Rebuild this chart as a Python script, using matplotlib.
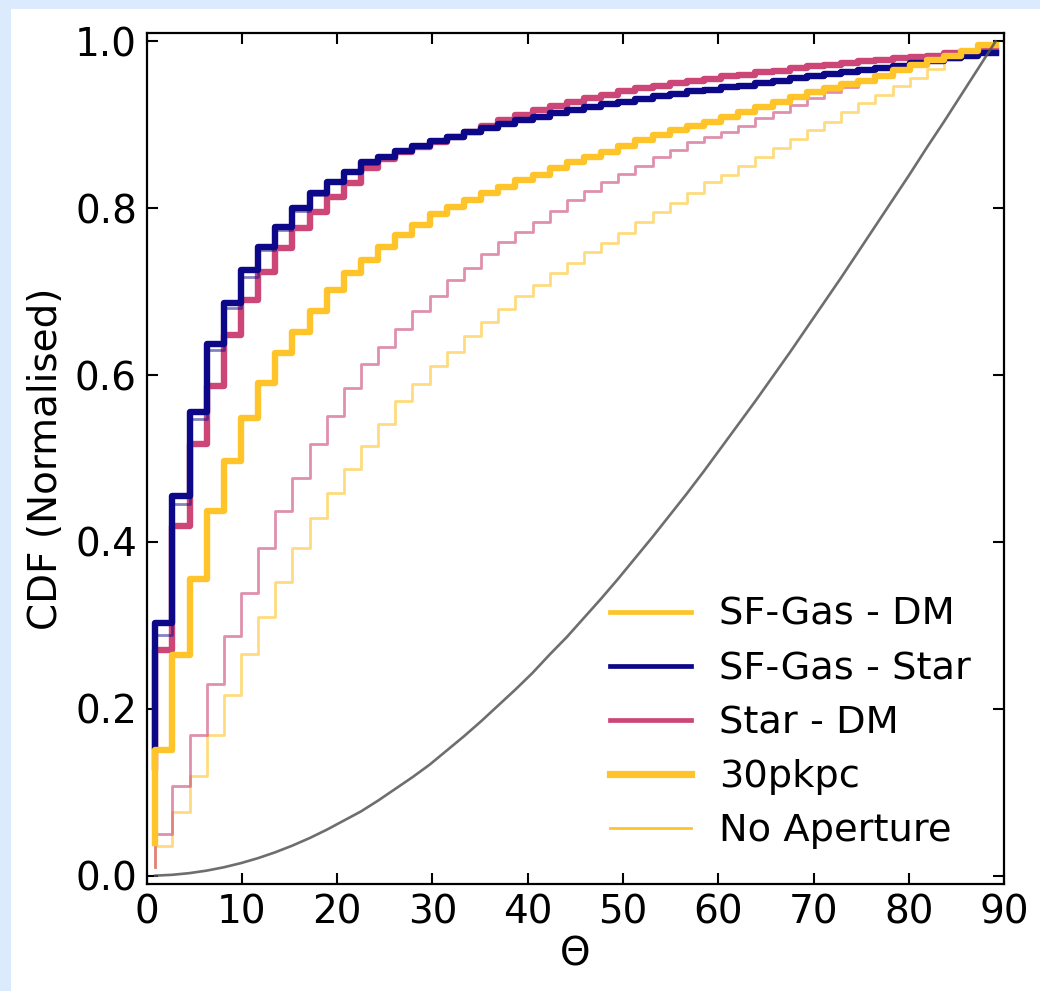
import matplotlib
matplotlib.use("Agg")
import matplotlib.pyplot as plt
import numpy as np

# Misalignment angle bins: 50 bins of 1.8 deg between 0 and 90
bin_edges = np.linspace(0, 90, 51)
theta = 0.5 * (bin_edges[:-1] + bin_edges[1:])

# Cumulative fractions per bin (normalised)
gas_dm_30 = [0.039, 0.151, 0.264, 0.355, 0.437, 0.497, 0.549, 0.591, 0.627, 0.652,
             0.677, 0.702, 0.722, 0.738, 0.754, 0.768, 0.780, 0.793, 0.802, 0.810,
             0.818, 0.826, 0.834, 0.840, 0.848, 0.856, 0.862, 0.868, 0.875, 0.882,
             0.888, 0.894, 0.899, 0.904, 0.909, 0.915, 0.921, 0.927, 0.933, 0.939,
             0.944, 0.949, 0.953, 0.959, 0.966, 0.972, 0.978, 0.983, 0.989, 0.996]
gas_dm_all = [0.010, 0.036, 0.076, 0.120, 0.168, 0.217, 0.266, 0.310, 0.352, 0.393,
              0.429, 0.459, 0.487, 0.515, 0.541, 0.569, 0.589, 0.611, 0.628, 0.647,
              0.664, 0.679, 0.695, 0.708, 0.722, 0.735, 0.747, 0.758, 0.770, 0.783,
              0.795, 0.806, 0.818, 0.831, 0.840, 0.851, 0.862, 0.872, 0.883, 0.894,
              0.904, 0.915, 0.926, 0.936, 0.946, 0.956, 0.967, 0.978, 0.987, 0.998]
gas_star_30 = [0.155, 0.303, 0.455, 0.556, 0.637, 0.687, 0.726, 0.754, 0.778, 0.800,
               0.818, 0.832, 0.844, 0.855, 0.862, 0.869, 0.875, 0.881, 0.886, 0.892,
               0.896, 0.901, 0.906, 0.910, 0.914, 0.918, 0.921, 0.925, 0.928, 0.931,
               0.934, 0.937, 0.940, 0.942, 0.945, 0.947, 0.950, 0.953, 0.956, 0.958,
               0.961, 0.963, 0.966, 0.968, 0.971, 0.974, 0.977, 0.980, 0.983, 0.986]
gas_star_all = [0.150, 0.289, 0.445, 0.547, 0.630, 0.680, 0.718, 0.750, 0.774, 0.797,
                0.816, 0.830, 0.843, 0.853, 0.861, 0.868, 0.874, 0.880, 0.885, 0.891,
                0.895, 0.900, 0.905, 0.909, 0.913, 0.917, 0.920, 0.924, 0.927, 0.930,
                0.933, 0.936, 0.939, 0.941, 0.944, 0.946, 0.949, 0.952, 0.955, 0.957,
                0.960, 0.962, 0.965, 0.967, 0.970, 0.973, 0.976, 0.979, 0.982, 0.985]
star_dm_30 = [0.130, 0.270, 0.419, 0.517, 0.587, 0.648, 0.690, 0.724, 0.752, 0.776,
              0.795, 0.814, 0.830, 0.848, 0.859, 0.867, 0.874, 0.880, 0.886, 0.892,
              0.899, 0.906, 0.912, 0.918, 0.923, 0.928, 0.932, 0.936, 0.940, 0.944,
              0.947, 0.950, 0.952, 0.955, 0.958, 0.960, 0.963, 0.965, 0.968, 0.970,
              0.972, 0.974, 0.976, 0.978, 0.980, 0.981, 0.983, 0.986, 0.987, 0.989]
star_dm_all = [0.010, 0.050, 0.108, 0.169, 0.230, 0.287, 0.339, 0.393, 0.437, 0.477,
               0.517, 0.551, 0.585, 0.613, 0.634, 0.655, 0.677, 0.695, 0.714, 0.729,
               0.745, 0.759, 0.772, 0.784, 0.797, 0.810, 0.821, 0.831, 0.841, 0.851,
               0.861, 0.870, 0.879, 0.886, 0.892, 0.899, 0.908, 0.916, 0.924, 0.932,
               0.939, 0.945, 0.951, 0.957, 0.964, 0.971, 0.977, 0.982, 0.988, 0.995]
# isotropic expectation
random_cdf = [0.000, 0.001, 0.003, 0.006, 0.010, 0.015, 0.021, 0.028, 0.036, 0.045,
              0.055, 0.066, 0.077, 0.090, 0.104, 0.118, 0.133, 0.150, 0.167, 0.185,
              0.204, 0.223, 0.243, 0.265, 0.286, 0.309, 0.332, 0.356, 0.381, 0.406,
              0.432, 0.458, 0.485, 0.513, 0.541, 0.569, 0.598, 0.627, 0.657, 0.687,
              0.717, 0.748, 0.779, 0.810, 0.841, 0.873, 0.904, 0.936, 0.968, 1.000]

pair_labels = ['SF-Gas - DM', 'SF-Gas - Star', 'Star - DM']
aperture_labels = ['30pkpc', 'No Aperture']

c_gas_dm = '#fec42a'
c_gas_star = '#0d0887'
c_star_dm = '#cc4778'

plt.rcParams['font.family'] = 'DejaVu Sans'
plt.rcParams['font.size'] = 28

fig = plt.figure(figsize=(10.4, 9.91), dpi=100, facecolor='#dbeafc')
fig.add_artist(plt.Rectangle((11 / 1040, 0), 1, 1 - 9 / 991, transform=fig.transFigure,
                             facecolor='white', edgecolor='none', zorder=-10))
ax = fig.add_axes([0.141, 0.108, 0.8245, 0.8586])

thin, thick = 2.0, 4.6
ax.step(theta, gas_dm_all, where='pre', color=c_gas_dm, lw=thin, alpha=0.6)
ax.step(theta, star_dm_all, where='pre', color=c_star_dm, lw=thin, alpha=0.6)
ax.step(theta, star_dm_30, where='pre', color=c_star_dm, lw=thick)
ax.step(theta, gas_star_30, where='pre', color=c_gas_star, lw=thick)
ax.step(theta, gas_star_all, where='pre', color=c_gas_star, lw=thin, alpha=0.5)
ax.step(theta, gas_dm_30, where='pre', color=c_gas_dm, lw=thick)
ax.plot(theta, random_cdf, color='#555555', lw=1.9, alpha=0.85)

# legend built from proxy lines: colour = pair, width = aperture
handles = [plt.Line2D([], [], color=c, lw=3.4) for c in (c_gas_dm, c_gas_star, c_star_dm)]
handles += [plt.Line2D([], [], color=c_gas_dm, lw=5.2),
            plt.Line2D([], [], color=c_gas_dm, lw=2.0)]
ax.legend(handles, pair_labels + aperture_labels, loc='lower right', frameon=False,
          fontsize=27.6, handlelength=2.1, handletextpad=0.75, labelspacing=0.47,
          borderaxespad=0.3, bbox_to_anchor=(0.993, 0.0095))

ax.set_xlim(0, 90)
ax.set_ylim(-0.01, 1.01)
ax.set_xticks(np.arange(0, 91, 10))
ax.set_yticks(np.arange(0, 1.01, 0.2))
ax.tick_params(direction='in', top=True, right=True, length=8, width=1.5, pad=7)
for s in ax.spines.values():
    s.set_linewidth(1.6)
ax.set_xlabel('Θ', labelpad=3)
ax.set_ylabel('CDF (Normalised)', labelpad=7)

fig.savefig('out.png', dpi=100, facecolor=fig.get_facecolor())
